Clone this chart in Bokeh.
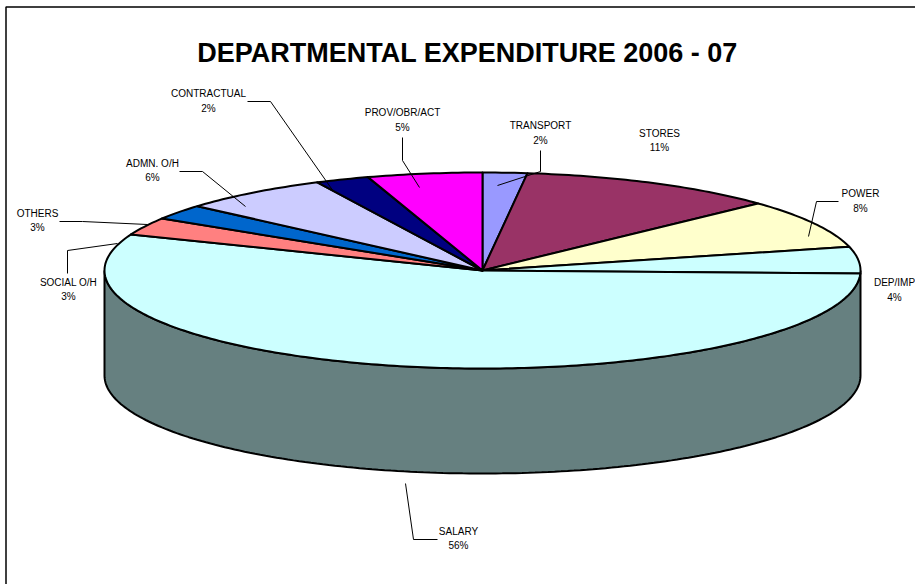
from math import pi, sin, cos
from bokeh.plotting import figure
from bokeh.models import Range1d
from bokeh.core.properties import value
from bokeh.embed import file_html
from bokeh.resources import INLINE

TITLE = "DEPARTMENTAL EXPENDITURE 2006 - 07"
names = ["TRANSPORT", "STORES", "POWER", "DEP/IMP", "SALARY", "SOCIAL O/H", "OTHERS", "ADMN. O/H", "CONTRACTUAL", "PROV/OBR/ACT"]
percent_labels = ["2%", "11%", "8%", "4%", "56%", "3%", "3%", "6%", "2%", "5%"]
shares = [1.9, 11.1, 8.1, 4.4, 55.5, 2.9, 2.5, 6.4, 2.3, 4.9]
colors = ["#9999FF", "#993366", "#FFFFCC", "#CCFFFF", "#CCFFFF", "#FF8080", "#0066CC", "#CCCCFF", "#000080", "#FF00FF"]
WALL = "#668080"

W, H = 915, 584
CX, CY, RX, RY, DEPTH = 482, 270, 378, 98, 105

label_x = [540, 659, 860, 894, 458, 68, 37, 152, 208, 402]
label_y1 = [125, 133, 193, 282, 531, 282, 213, 163, 93, 112]
label_y2 = [140, 147, 208, 297, 545, 296, 227, 177, 108, 127]
leaders_x = [[247, 270, 333], [179, 202, 245], [59, 82, 147], [67, 67, 117], [402, 402, 419],
             [540, 540, 497], [838, 816, 808], [437, 413, 405]]
leaders_y = [[101, 101, 191], [171, 171, 206], [221, 221, 224], [273, 250, 243], [137, 160, 187],
             [150, 171, 185], [201, 201, 236], [539, 539, 483]]


def pt(theta, dy=0):
    return CX + RX * sin(theta), CY - RY * cos(theta) + dy


p = figure(width=W, height=H, x_range=Range1d(0, W), y_range=Range1d(H, 0),
           output_backend="svg", toolbar_location=None, min_border=0,
           x_axis_location=None, y_axis_location=None, outline_line_color=None,
           background_fill_color="white", border_fill_color="white")
p.grid.visible = False

# frame: only its top and left edges fall inside the picture
p.line([5.5, 5.5, 915], [584, 6.5, 6.5], line_color="black", line_width=1.5)

# wall: front half of the ellipse rim extruded downwards
steps = 180
front = [pi / 2 + pi * i / steps for i in range(steps + 1)]
top = [pt(t) for t in front]
bot = [pt(t, DEPTH) for t in reversed(front)]
p.patch([a for a, _ in top + bot], [b for _, b in top + bot], fill_color=WALL,
        line_color="black", line_width=2)

# top face
total = sum(shares)
start = 0.0
for share, color in zip(shares, colors):
    t0 = 2 * pi * start / total
    t1 = 2 * pi * (start + share) / total
    n = max(2, int(share * 4))
    rim = [pt(t0 + (t1 - t0) * i / n) for i in range(n + 1)]
    p.patch([CX] + [a for a, _ in rim], [CY] + [b for _, b in rim], fill_color=color,
            line_color="black", line_width=2, line_join="round")
    start += share

# leaders
p.multi_line(leaders_x, leaders_y, line_color="black", line_width=1)

font = value("Liberation Sans")
p.text(label_x, label_y1, text=names, text_font=font, text_font_size="10px", text_color="black",
       text_align="center", text_baseline="middle")
p.text(label_x, label_y2, text=percent_labels, text_font=font, text_font_size="10px", text_color="black",
       text_align="center", text_baseline="middle")
p.text([467], [52], text=[TITLE], text_font=font, text_font_size="27px", text_font_style="bold",
       text_color="black", text_align="center", text_baseline="middle")

open("out.html", "w").write(file_html(p, INLINE))
